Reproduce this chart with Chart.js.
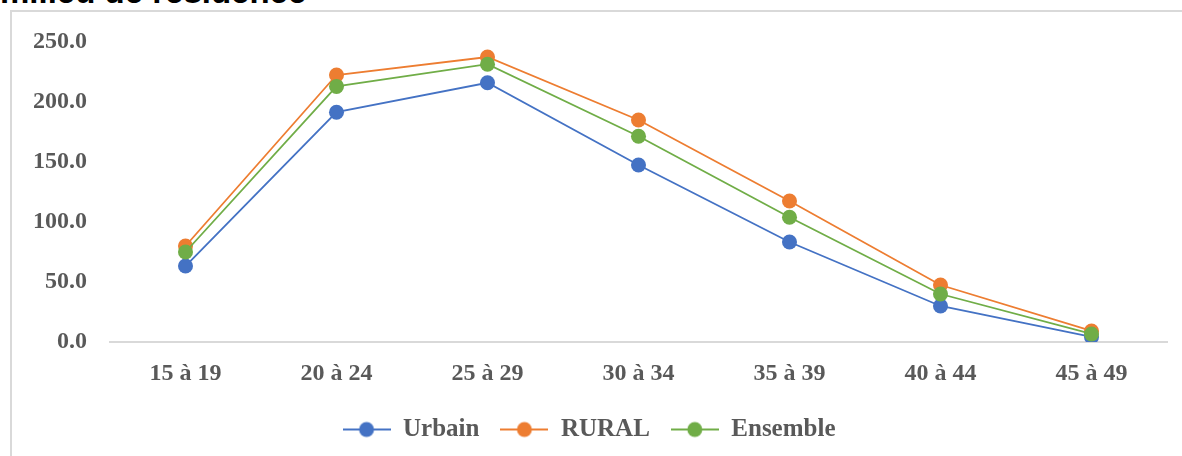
<!DOCTYPE html>
<html lang="fr">
<head>
<meta charset="UTF-8" />
<title>Taux de fécondité par âge selon le milieu de résidence</title>
<script src="https://cdn.jsdelivr.net/npm/chart.js"></script>
<style>
  body {
    margin: 0;
    width: 1182px;
    height: 456px;
    overflow: hidden;
    position: relative;
    background: #ffffff;
  }
  .title {
    position: absolute;
    left: 0;
    top: -25px;
    font-family: "Liberation Sans", Arial, sans-serif;
    font-weight: bold;
    font-size: 33px;
    line-height: 1;
    color: #000;
    white-space: nowrap;
  }
  .frame {
    position: absolute;
    left: 10px;
    top: 10px;
    width: 1200px;
    height: 480px;
    border: 2px solid #d9d9d9;
  }
  #chart {
    position: absolute;
    left: 0;
    top: 0;
  }
</style>
</head>
<body>
<div class="title">milieu de résidence</div>
<div class="frame"></div>
<canvas id="chart" width="1182" height="456"></canvas>

<script>
  // age groups and rates
  const categories = ['15 à 19', '20 à 24', '25 à 29', '30 à 34', '35 à 39', '40 à 44', '45 à 49'];
  const urbain   = [63.3, 191.5, 216.0, 147.5, 83.3, 30.0, 4.2];
  const rural    = [80.0, 222.5, 237.5, 185.0, 117.5, 47.5, 9.2];
  const ensemble = [75.0, 213.0, 231.5, 171.5, 104.0, 40.0, 6.7];

  const seriesNames = ['Urbain', 'RURAL', 'Ensemble'];
  const seriesColors = ['#4472c4', '#ed7d31', '#70ad47'];
  const yTicks = [0, 50, 100, 150, 200, 250];

  const labelColor = '#595959';
  const serif = '"Liberation Serif", "Times New Roman", serif';

  // legend marker: short line with a dot, like the office charts
  function legendMarker(color) {
    const c = document.createElement('canvas');
    c.width = 48;
    c.height = 18;
    const ctx = c.getContext('2d');
    ctx.strokeStyle = color;
    ctx.lineWidth = 2;
    ctx.beginPath();
    ctx.moveTo(0, 9);
    ctx.lineTo(48, 9);
    ctx.stroke();
    ctx.fillStyle = color;
    ctx.beginPath();
    ctx.arc(24, 9, 7.5, 0, Math.PI * 2);
    ctx.fill();
    return c;
  }
  const markers = seriesColors.map(legendMarker);

  // shrink the legend box so it sits where it does in the original
  const legendHeight = {
    id: 'legendHeight',
    afterInit(chart) {
      const lg = chart.legend;
      const fit = lg.fit;
      lg.fit = function () {
        fit.call(this);
        this.height = 60;
      };
    }
  };

  const values = [urbain, rural, ensemble];
  const datasets = values.map((data, i) => ({
    label: seriesNames[i],
    data: data,
    borderColor: seriesColors[i],
    backgroundColor: seriesColors[i],
    pointBackgroundColor: seriesColors[i],
    pointBorderColor: seriesColors[i],
    borderWidth: 1.8,
    pointRadius: 7.5,
    pointBorderWidth: 0,
    tension: 0,
    order: values.length - i
  }));

  new Chart(document.getElementById('chart'), {
    type: 'line',
    data: { labels: categories, datasets },
    plugins: [legendHeight],
    options: {
      responsive: false,
      animation: false,
      layout: { padding: { top: 42, right: 15, left: 11, bottom: 0 } },
      plugins: {
        tooltip: { enabled: false },
        legend: {
          position: 'bottom',
          labels: {
            usePointStyle: true,
            pointStyleWidth: 48,
            padding: 21,
            color: labelColor,
            font: { family: serif, size: 25, weight: 'bold' },
            generateLabels(chart) {
              return chart.data.datasets.map((ds, i) => ({
                text: ds.label,
                fillStyle: ds.borderColor,
                strokeStyle: ds.borderColor,
                lineWidth: 0,
                pointStyle: markers[i],
                fontColor: labelColor,
                hidden: false,
                datasetIndex: i
              }));
            }
          }
        }
      },
      scales: {
        x: {
          offset: true,
          grid: { display: false, drawTicks: false },
          border: { display: true, color: '#d9d9d9', width: 2 },
          ticks: {
            padding: 17,
            color: labelColor,
            maxRotation: 0,
            font: { family: serif, size: 24, weight: 'bold' }
          },
          afterFit(scale) { scale.height = 54; }
        },
        y: {
          min: 0,
          max: 250,
          grid: { display: false, drawTicks: false },
          border: { display: false },
          afterBuildTicks(scale) {
            scale.ticks = yTicks.map(v => ({ value: v }));
          },
          ticks: {
            padding: 23,
            color: labelColor,
            font: { family: serif, size: 24, weight: 'bold' },
            callback: v => Number(v).toFixed(1)
          },
          afterFit(scale) { scale.width = 99; }
        }
      }
    }
  });
</script>
</body>
</html>
